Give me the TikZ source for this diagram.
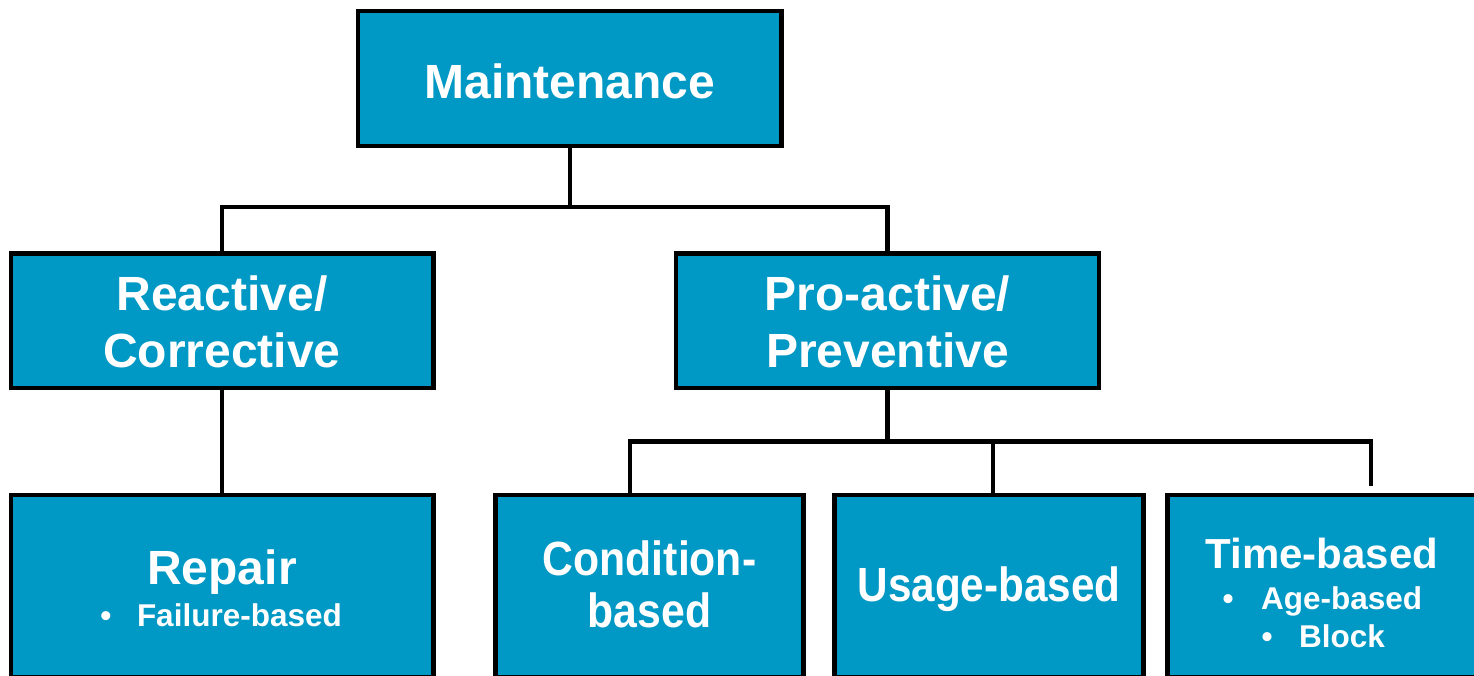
\documentclass[tikz,border=0pt]{standalone}
\usepackage{fontspec}
\setmainfont{Liberation Sans}
\definecolor{boxblue}{RGB}{0,152,196}
\begin{document}
\begin{tikzpicture}[x=1pt,y=-1pt,
  box/.style={draw=black, line width=4.5pt, fill=boxblue, inner sep=0pt, outer sep=0pt,
              rectangle, minimum width=#1},
  conn/.style={draw=black, line width=4.5pt},
  lbl/.style={text=white, inner sep=0pt, outer sep=0pt, anchor=base},
  big/.style={lbl, font=\fontsize{48}{48}\selectfont\bfseries},
  mid/.style={lbl, font=\fontsize{42}{42}\selectfont\bfseries},
  small/.style={lbl, font=\fontsize{31.5}{31.5}\selectfont\bfseries}]
\useasboundingbox (0,0) rectangle (1474,675);
\clip (0,0) rectangle (1474,675);

% boxes
\node[box=423.5pt, minimum height=135pt] (maint) at (569.75,78.5) {};
\node[box=422.5pt, minimum height=134.5pt] (react) at (222,320.75) {};
\node[box=423.2pt, minimum height=134.5pt] (pro) at (887.4,320.75) {};
\node[box=422.5pt, minimum height=182.5pt] (repair) at (222,586.25) {};
\node[box=308pt, minimum height=182.5pt] (cond) at (649.5,586.25) {};
\node[box=309pt, minimum height=182.5pt] (usage) at (989,586.25) {};
\node[box=308.5pt, minimum height=182.5pt] (time) at (1321.75,586.25) {};

% bus lines and the open end over the last box
\coordinate (bus1) at (570,207);
\coordinate (bus2) at (887,441.5);
\coordinate (tend) at (1371,486);

% connectors
\draw[conn] (maint.south) -- (maint.south |- bus1);
\draw[conn] (react.north) |- (bus1) -| (pro.north);
\draw[conn] (react.south) -- (repair.north);
\draw[conn] (pro.south) -- (pro.south |- bus2);
\draw[conn] ([xshift=-19.5pt]cond.north) |- (tend |- bus2) -- (tend);
\draw[conn] ([xshift=4pt]usage.north) -- ([xshift=4pt]usage.north |- bus2);

% texts
\node[big] (maint-t) at (570,98) {Maintenance};
\node[big] (react-t1) at (222,310) {Reactive/};
\node[big] (react-t2) at (222,367) {Corrective};
\node[big] (pro-t1) at (887.4,310) {Pro-active/};
\node[big] (pro-t2) at (887.4,367) {Preventive};
\node[big] (repair-t) at (222,584) {Repair};
\node[small] (repair-b) at (106,626) {•};
\node[small, anchor=base west] (repair-s) at (137,626) {Failure-based};
\node[big] (cond-t1) at (649.5,575) {\scalebox{0.89}[1]{Condition-}};
\node[big] (cond-t2) at (649.5,627) {\scalebox{0.89}[1]{based}};
\node[big] (usage-t) at (989,601) {\scalebox{0.88}[1]{Usage-based}};
\node[mid] (time-t) at (1321.75,568) {Time-based};
\node[small] (time-b1) at (1228,609) {•};
\node[small, anchor=base west] (time-s1) at (1261,609) {Age-based};
\node[small] (time-b2) at (1267,647) {•};
\node[small, anchor=base west] (time-s2) at (1299,647) {Block};
\end{tikzpicture}
\end{document}
